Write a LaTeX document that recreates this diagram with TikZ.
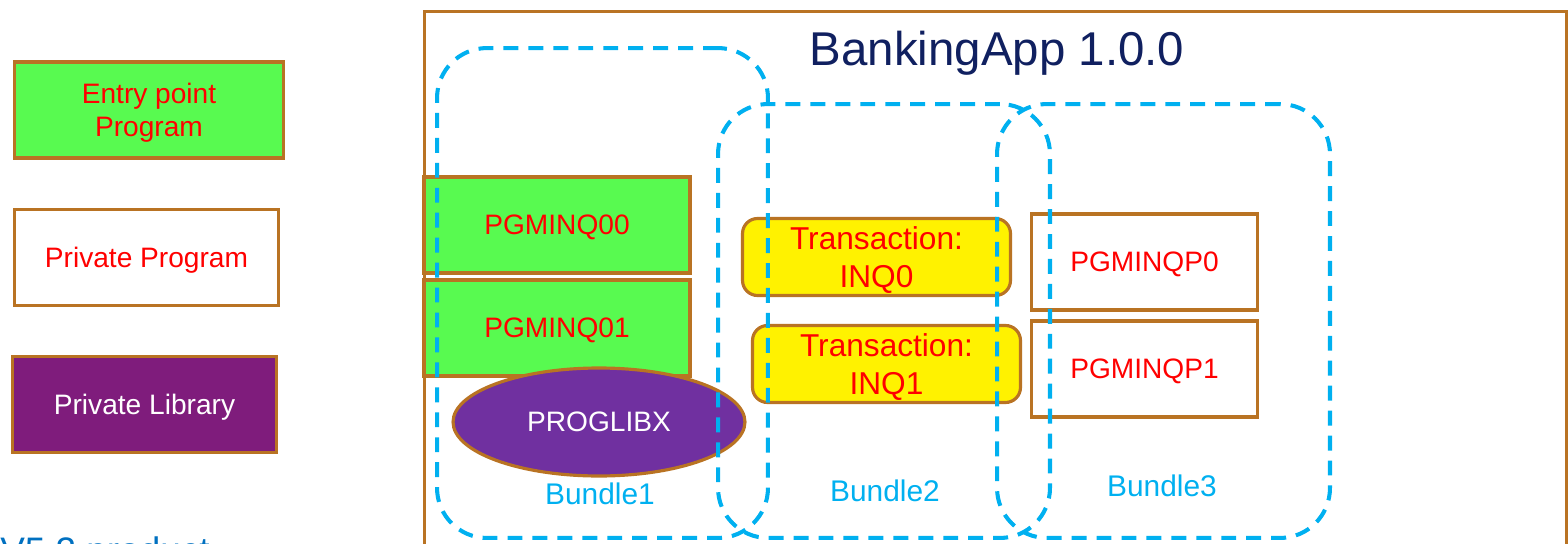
\documentclass[tikz,border=0pt]{standalone}
\usepackage{fontspec}
\setmainfont{Liberation Sans}
\usetikzlibrary{positioning, shapes.geometric}

\definecolor{frameBrown}{RGB}{185,115,35}
\definecolor{entryGreen}{RGB}{88,250,80}
\definecolor{libPurple}{RGB}{112,48,160}
\definecolor{legendPurple}{RGB}{127,28,124}
\definecolor{bundleCyan}{RGB}{0,176,240}
\definecolor{titleNavy}{RGB}{16,32,96}
\definecolor{noteBlue}{RGB}{0,112,192}

\begin{document}
\begin{tikzpicture}[
  x=0.02cm, y=-0.02cm,
  node distance=0.96cm,
  prog/.style={rectangle, draw=frameBrown, line width=1.8pt, inner sep=0pt, text=red, align=center,
    font=\fontsize{16}{19}\selectfont, text depth=0pt, minimum width=5.32cm, minimum height=1.92cm},
  entry/.style={prog, fill=entryGreen},
  private/.style={prog, fill=white, minimum width=4.52cm},
  library/.style={ellipse, draw=frameBrown, line width=1.8pt, fill=libPurple, text=white, inner sep=0pt,
    font=\fontsize{16}{19}\selectfont, text depth=0pt, minimum width=5.84cm, minimum height=2.16cm},
  trans/.style={prog, fill=yellow, rounded corners=0.3cm, minimum width=5.36cm, minimum height=1.54cm,
    font=\fontsize{18}{21.5}\selectfont},
  bundle/.style={rectangle, draw=bundleCyan, line width=2.3pt, dash pattern=on 8.5pt off 5.7pt,
    rounded corners=1cm, inner sep=0pt},
  bundlelabel/.style={text=bundleCyan, font=\fontsize{17}{20}\selectfont, inner sep=0pt},
]
\useasboundingbox (0,0) rectangle (1568,544);

% application frame
\node[rectangle, draw=frameBrown, line width=1.8pt, minimum width=22.84cm, minimum height=11.5cm,
  anchor=north west, inner sep=0pt] (app) at (423,10) {};
\node[text=titleNavy, font=\fontsize{27}{32}\selectfont, inner sep=0pt] (title) at (997,53) {BankingApp 1.0.0};

% legend
\node[entry, minimum width=5.38cm] (legentry) at (149,110) {Entry point\\Program};
\node[private, minimum width=5.28cm, below=of legentry.south, anchor=north, xshift=-0.05cm] (legprivate) {Private Program};
\node[prog, fill=legendPurple, text=white, minimum width=5.28cm, below=of legprivate.south, anchor=north,
  xshift=-0.04cm] (leglib) {Private Library};

\node[text=noteBlue, font=\fontsize{21}{25}\selectfont, anchor=base west, inner sep=0pt] (note) at (0,563) {V5.2 product};

% programs
\node[entry] (inq00) at (557,225) {PGMINQ00};
\node[entry] (inq01) at (557,328) {PGMINQ01};
\node[library] (proglibx) at (599,422) {PROGLIBX};

\node[trans] (tran0) at (876.5,257) {Transaction:\\INQ0};
\node[trans] (tran1) at (886.5,364) {Transaction:\\INQ1};

\node[private] (inqp0) at (1144.5,262) {PGMINQP0};
\node[private] (inqp1) at (1144.5,369) {PGMINQP1};

% bundles
\node[bundle, minimum width=6.62cm, minimum height=9.8cm] (bundle1) at (602.5,293) {};
\node[bundle, minimum width=6.64cm, minimum height=8.68cm] (bundle2) at (884,321) {};
\node[bundle, minimum width=6.66cm, minimum height=8.68cm] (bundle3) at (1163.5,321) {};

\node[bundlelabel] (lbl1) at (600,494) {Bundle1};
\node[bundlelabel] (lbl2) at (885,491) {Bundle2};
\node[bundlelabel] (lbl3) at (1162,486) {Bundle3};

\end{tikzpicture}
\end{document}
